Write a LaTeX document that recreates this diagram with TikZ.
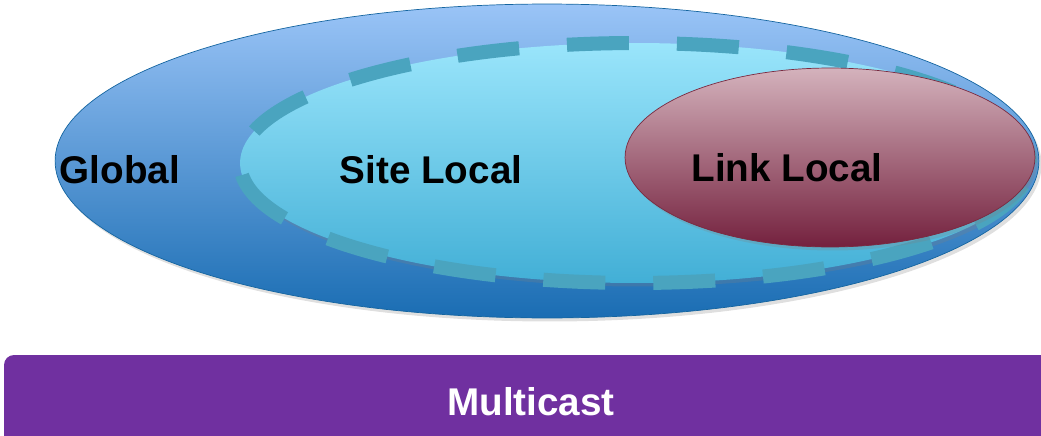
\documentclass[tikz,border=0pt]{standalone}
\usepackage{fontspec}
\setmainfont{Liberation Sans}
\usetikzlibrary{shadows}

\definecolor{globaltop}{HTML}{9AC4F7}
\definecolor{globalbot}{HTML}{1A6DB3}
\definecolor{globalline}{HTML}{1565A0}
\definecolor{sitetop}{HTML}{9AE5FB}
\definecolor{sitebot}{HTML}{42AFD6}
\definecolor{sitedash}{HTML}{4AA4BF}
\definecolor{linktop}{HTML}{D4B2BC}
\definecolor{linkbot}{HTML}{74213E}
\definecolor{linkline}{HTML}{7A2A40}
\definecolor{multipurple}{HTML}{7030A0}

\begin{document}
\begin{tikzpicture}[x=0.02cm,y=-0.02cm,
  every node/.style={font=\bfseries\fontsize{22}{26}\selectfont},
  zone/.style={drop shadow={opacity=0.25,shadow xshift=1.5pt,shadow yshift=-2pt}}]
  \useasboundingbox (0,0) rectangle (1041,436);
  % Global scope
  \path[zone, draw=globalline, thin, top color=globaltop, bottom color=globalbot]
    (547,161) ellipse [x radius=9.84cm, y radius=3.14cm];
  % Site local scope, dashed border
  \path[zone, top color=sitetop, bottom color=sitebot]
    (635,163) ellipse [x radius=7.9cm, y radius=2.4cm];
  \draw[sitedash, line width=8pt, dash pattern=on 1.24cm off 0.96cm]
    (635,163) ellipse [x radius=7.9cm, y radius=2.4cm];
  % Link local scope
  \path[zone, draw=linkline, top color=linktop, bottom color=linkbot]
    (830,157.5) ellipse [x radius=4.1cm, y radius=1.79cm];
  % Labels
  \node (global) at (120,170) {Global};
  \node (site) at (431,170) {Site Local};
  \node (link) at (787,168) {Link Local};
  % Multicast bar
  \fill[multipurple, rounded corners=0.2cm] (4,355) rectangle (1080,470);
  \node[text=white] (multicast) at (531,402) {Multicast};
\end{tikzpicture}
\end{document}
